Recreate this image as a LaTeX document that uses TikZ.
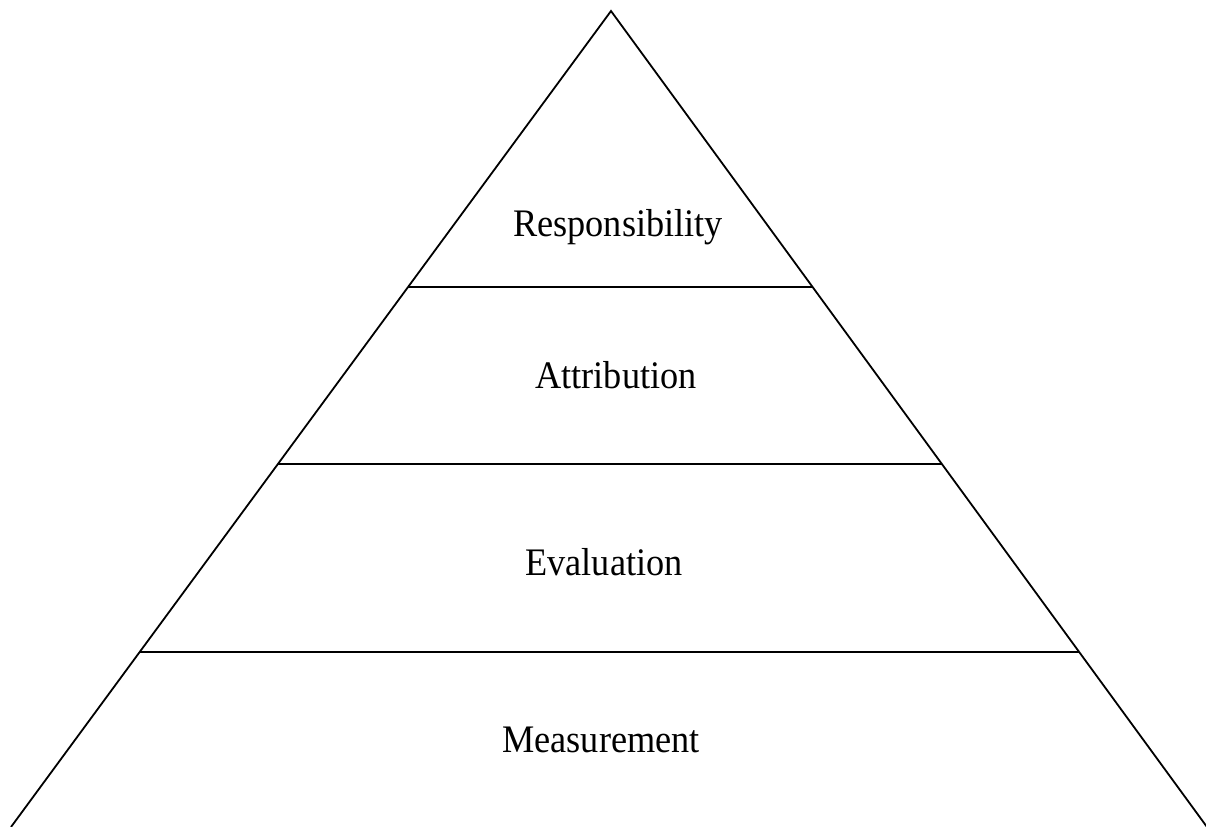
\documentclass[tikz,border=0pt]{standalone}
\usepackage{fontspec}
\setmainfont[FakeStretch=0.93]{Liberation Serif}
\usetikzlibrary{calc}

\begin{document}
\begin{tikzpicture}[x=0.5pt, y=-0.5pt, line width=0.9pt]
		\useasboundingbox (0,0) rectangle (1206,826);
		\coordinate (top) at (611,11);
		\coordinate (bl) at (11,827);
		\coordinate (br) at (1207,827);
		\draw (bl) -- (top) -- (br);
		% level lines, given as fraction of the height
		\foreach \y in {287,464,652} {
			\pgfmathsetmacro{\t}{(\y-11)/816}
			\draw ($(top)!\t!(bl)$) -- ($(top)!\t!(br)$);
		}
		\tikzset{level/.style={anchor=base, inner sep=0pt, font=\fontsize{19.5}{22}\selectfont}}
		\node[level] (resp) at (618,236) {Responsibility};
		\node[level] (attr) at (616,388) {Attribution};
		\node[level] (eval) at (604,575) {Evaluation};
		\node[level] (meas) at (601,752) {Measurement};
	\end{tikzpicture}
\end{document}
